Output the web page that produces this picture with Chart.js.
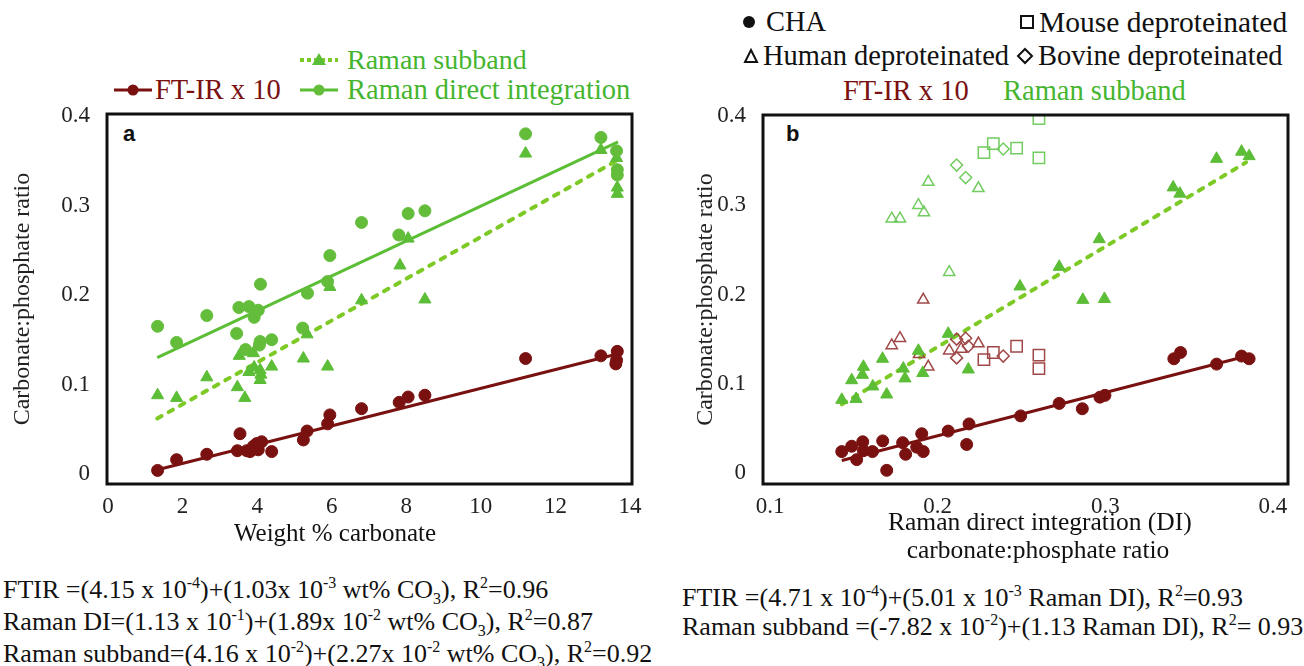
<!DOCTYPE html>
<html>
<head>
<meta charset="utf-8">
<script src="https://cdn.jsdelivr.net/npm/chart.js@4.4.0/dist/chart.umd.min.js"></script>
<style>
  body { margin: 0; background: #fff; }
  #page { position: relative; width: 1304px; height: 666px; overflow: hidden; font-family: 'Liberation Serif', serif; color: #111; }
  .abs { position: absolute; white-space: nowrap; }
  .leg { font-size: 28.5px; line-height: 30px; }
  .eq { font-size: 26px; line-height: 32px; }
  .eq sup, .eq sub { font-size: 16px; line-height: 0; }
  .panel { position: absolute; font-family: 'Liberation Sans', Arial, sans-serif; font-weight: bold; font-size: 22px; }
</style>
</head>
<body>
<div id="page">
  <!-- legenda painel a -->
  <svg class="abs" style="left:298px; top:50px;" width="42" height="20"><line x1="2" y1="10" x2="40" y2="10" stroke="#7dc925" stroke-width="4" stroke-dasharray="4,3"/><polygon points="21,3 28,15 14,15" fill="#5cbd37"/></svg>
  <div class="abs leg" style="left:347px; top:45px; color:#45b52f; font-size:28px;">Raman subband</div>
  <svg class="abs" style="left:112px; top:80px;" width="42" height="20"><line x1="2" y1="10" x2="40" y2="10" stroke="#7a1111" stroke-width="3"/><circle cx="21" cy="10" r="5.5" fill="#7a1111"/></svg>
  <div class="abs leg" style="left:155px; top:75px; color:#7a1111;">FT-IR x 10</div>
  <svg class="abs" style="left:298px; top:80px;" width="42" height="20"><line x1="2" y1="10" x2="40" y2="10" stroke="#5cbe35" stroke-width="3"/><circle cx="21" cy="10" r="5.5" fill="#63bd3b"/></svg>
  <div class="abs leg" style="left:347px; top:75px; color:#45b52f;">Raman direct integration</div>

  <!-- legenda painel b -->
  <svg class="abs" style="left:741px; top:13px;" width="16" height="18"><circle cx="8" cy="9" r="6" fill="#111"/></svg>
  <div class="abs leg" style="left:766px; top:7px;">CHA</div>
  <svg class="abs" style="left:1019px; top:13px;" width="16" height="18"><rect x="2" y="3" width="12" height="12" fill="none" stroke="#111" stroke-width="2"/></svg>
  <div class="abs leg" style="left:1039px; top:7px; font-size:29.5px;">Mouse deproteinated</div>
  <svg class="abs" style="left:743px; top:47px;" width="16" height="18"><polygon points="8,3 14,15 2,15" fill="none" stroke="#111" stroke-width="2"/></svg>
  <div class="abs leg" style="left:763px; top:41px;">Human deproteinated</div>
  <svg class="abs" style="left:1016px; top:46px;" width="18" height="20"><polygon points="9,3 16,10 9,17 2,10" fill="none" stroke="#111" stroke-width="2"/></svg>
  <div class="abs leg" style="left:1038px; top:41px;">Bovine deproteinated</div>
  <div class="abs leg" style="left:843px; top:76px; color:#7a1111;">FT-IR x 10</div>
  <div class="abs leg" style="left:1003px; top:76px; color:#45b52f;">Raman subband</div>

  <div class="panel" style="left:123px; top:121px;">a</div>
  <div class="panel" style="left:786px; top:121px;">b</div>

  <canvas id="graficoA" width="660" height="470" style="position:absolute; left:0; top:100px;"></canvas>
  <canvas id="graficoB" width="614" height="470" style="position:absolute; left:690px; top:100px;"></canvas>

  <!-- titulos eixo x -->
  <div class="abs" style="left:185px; top:518px; width:300px; text-align:center; font-size:25px; line-height:30px;">Weight % carbonate</div>
  <div class="abs" style="left:888px; top:508px; width:300px; text-align:center; font-size:25.5px; line-height:28px;">Raman direct integration (DI)<br>carbonate:phosphate ratio</div>

  <!-- equacoes -->
  <div class="abs eq" style="left:3px; top:574px;">
    FTIR =(4.15 x 10<sup>-4</sup>)+(1.03x 10<sup>-3</sup> wt% CO<sub>3</sub>), R<sup>2</sup>=0.96<br>
    Raman DI=(1.13 x 10<sup>-1</sup>)+(1.89x 10<sup>-2</sup> wt% CO<sub>3</sub>), R<sup>2</sup>=0.87<br>
    Raman subband=(4.16 x 10<sup>-2</sup>)+(2.27x 10<sup>-2</sup> wt% CO<sub>3</sub>), R<sup>2</sup>=0.92
  </div>
  <div class="abs eq" style="left:682px; top:583px; line-height:29px;">
    FTIR =(4.71 x 10<sup>-4</sup>)+(5.01 x 10<sup>-3</sup> Raman DI), R<sup>2</sup>=0.93<br>
    Raman subband =(-7.82 x 10<sup>-2</sup>)+(1.13 Raman DI), R<sup>2</sup>= 0.93
  </div>
</div>

<script>
// cores
const vermelho = '#7a1111';
const verdeDI = '#63bd3b';
const verdeSub = '#5cbd37';
const verdeTracejado = '#7dc925';
const verdeAberto = '#72cc60';
const vermelhoAberto = '#a04848';

// ---- painel a: wt% carbonato ----
const ticksA_x = [0, 2, 4, 6, 8, 10, 12, 14];
const ticksY = [0, 0.1, 0.2, 0.3, 0.4];

const ftirWt =   [1.33, 1.84, 2.65, 3.54, 3.47, 3.72, 3.90, 3.99, 4.12, 4.03, 3.81, 4.39, 5.24, 5.34, 5.89, 5.95, 6.80, 7.81, 8.05, 8.50, 11.20, 13.22, 13.66, 13.64, 13.62];
const ftirRatio = [0.004, 0.016, 0.022, 0.045, 0.026, 0.026, 0.031, 0.034, 0.036, 0.027, 0.025, 0.025, 0.038, 0.048, 0.056, 0.066, 0.073, 0.080, 0.086, 0.088, 0.129, 0.132, 0.137, 0.127, 0.123];

const diWt =   [1.33, 1.84, 2.65, 3.51, 3.78, 4.03, 3.92, 4.09, 3.45, 3.69, 4.08, 4.06, 4.39, 5.22, 5.35, 5.89, 5.95, 6.80, 7.80, 8.05, 8.50, 11.20, 13.22, 13.64, 13.66, 13.66];
const diRatio = [0.165, 0.147, 0.177, 0.186, 0.187, 0.183, 0.175, 0.212, 0.157, 0.139, 0.148, 0.144, 0.150, 0.163, 0.202, 0.215, 0.244, 0.281, 0.267, 0.291, 0.294, 0.380, 0.376, 0.361, 0.340, 0.334];

const subWt =   [1.33, 1.84, 2.65, 3.47, 3.67, 3.52, 3.90, 3.78, 3.92, 4.08, 4.10, 4.08, 4.39, 5.24, 5.34, 5.89, 5.95, 6.80, 7.83, 8.05, 8.50, 11.20, 13.22, 13.64, 13.66, 13.66];
const subRatio = [0.088, 0.085, 0.108, 0.097, 0.085, 0.132, 0.135, 0.114, 0.119, 0.116, 0.111, 0.105, 0.120, 0.129, 0.156, 0.120, 0.209, 0.194, 0.233, 0.263, 0.195, 0.358, 0.362, 0.353, 0.320, 0.313];

// retas de ajuste (pontas)
const retaFtirA = [[1.35, 0.005], [13.66, 0.134]];
const retaDiA = [[1.32, 0.130], [13.68, 0.371]];
const retaSubA = [[1.32, 0.062], [13.60, 0.349]];

// ---- painel b: Raman DI ----
const ticksB_x = [0.1, 0.2, 0.3, 0.4];

const chaDI = [0.1428, 0.1487, 0.1553, 0.1517, 0.1557, 0.1611, 0.1672, 0.1696, 0.1791, 0.1809, 0.1875, 0.1905, 0.1914, 0.2063, 0.2173, 0.2187, 0.2495, 0.2725, 0.2863, 0.2968, 0.2998, 0.3409, 0.3449, 0.3664, 0.3813, 0.3858];
const chaFtir = [0.024, 0.030, 0.035, 0.015, 0.025, 0.024, 0.036, 0.003, 0.034, 0.021, 0.029, 0.044, 0.024, 0.047, 0.032, 0.055, 0.064, 0.078, 0.072, 0.085, 0.087, 0.128, 0.135, 0.122, 0.131, 0.128];

const chaSubDI = [0.1428, 0.1513, 0.1487, 0.1551, 0.1557, 0.1613, 0.1671, 0.1696, 0.1795, 0.1805, 0.1885, 0.1911, 0.2063, 0.2183, 0.2491, 0.2725, 0.2866, 0.2995, 0.2964, 0.3405, 0.3445, 0.3664, 0.3813, 0.3858];
const chaSub = [0.082, 0.083, 0.104, 0.110, 0.119, 0.097, 0.128, 0.088, 0.117, 0.106, 0.137, 0.112, 0.156, 0.116, 0.209, 0.231, 0.194, 0.195, 0.262, 0.320, 0.313, 0.352, 0.360, 0.355];

const humanoSubDI = [0.1726, 0.1775, 0.1885, 0.1918, 0.1944, 0.2069, 0.2243];
const humanoSub = [0.285, 0.285, 0.300, 0.292, 0.326, 0.225, 0.319];
const bovinoSubDI = [0.2113, 0.2167, 0.2391];
const bovinoSub = [0.345, 0.331, 0.363];
const camundongoSubDI = [0.2276, 0.2332, 0.2471, 0.2604, 0.2604];
const camundongoSub = [0.359, 0.369, 0.364, 0.397, 0.353];

const humanoFtirDI = [0.1914, 0.1726, 0.1775, 0.1889, 0.1944, 0.2069, 0.2243, 0.2140];
const humanoFtir = [0.194, 0.143, 0.151, 0.133, 0.119, 0.137, 0.145, 0.139];
const bovinoFtirDI = [0.2113, 0.2167, 0.2183, 0.2113, 0.2391];
const bovinoFtir = [0.150, 0.151, 0.142, 0.129, 0.131];
const camundongoFtirDI = [0.2276, 0.2332, 0.2471, 0.2604, 0.2604];
const camundongoFtir = [0.127, 0.135, 0.142, 0.132, 0.117];

const retaFtirB = [[0.1428, 0.014], [0.3862, 0.132]];
const retaSubB = [[0.1428, 0.077], [0.3840, 0.348]];

const pares = (xs, ys) => xs.map((x, i) => ({ x: x, y: ys[i] }));
const reta = r => r.map(p => ({ x: p[0], y: p[1] }));

// moldura preta em volta da area do grafico
const moldura = {
    id: 'moldura',
    afterDraw(chart) {
        const a = chart.chartArea;
        const ctx = chart.ctx;
        ctx.save();
        ctx.strokeStyle = '#111';
        ctx.lineWidth = 3;
        ctx.strokeRect(a.left, a.top, a.right - a.left, a.bottom - a.top);
        ctx.restore();
    }
};

const fonteTick = { family: "'Liberation Serif', serif", size: 23 };

function pontos(label, data, cor, estilo, raio, aberto) {
    return {
        type: 'scatter',
        label: label,
        data: data,
        pointStyle: estilo,
        pointRadius: raio,
        pointBackgroundColor: aberto ? 'rgba(0,0,0,0)' : cor,
        pointBorderColor: cor,
        pointBorderWidth: aberto ? 1.5 : 1,
        order: 1
    };
}

function linha(label, data, cor, traco) {
    return {
        type: 'line',
        label: label,
        data: data,
        borderColor: cor,
        borderWidth: traco ? 4 : 3,
        borderDash: traco ? [5, 8] : [],
        borderCapStyle: traco ? 'round' : 'butt',
        pointRadius: 0,
        fill: false,
        order: 2
    };
}

function eixos(xMin, xMax, xTicks, yMin, yMax, yLargura, yTitlePad) {
    return {
        x: {
            type: 'linear',
            min: xMin, max: xMax,
            grid: { display: false },
            border: { display: false },
            afterBuildTicks: s => { s.ticks = xTicks.map(v => ({ value: v })); },
            afterFit: s => { s.height = 86; s.paddingLeft = 0; s.paddingRight = 0; },
            ticks: { font: fonteTick, color: '#222', padding: 1, maxRotation: 0 }
        },
        y: {
            type: 'linear',
            min: yMin, max: yMax,
            grid: { display: false },
            border: { display: false },
            afterBuildTicks: s => { s.ticks = ticksY.map(v => ({ value: v })); },
            afterFit: s => { s.width = yLargura; s.paddingTop = 0; s.paddingBottom = 0; },
            ticks: { font: fonteTick, color: '#222', padding: 9 },
            title: {
                display: true,
                text: 'Carbonate:phosphate ratio',
                font: { family: "'Liberation Serif', serif", size: 24 },
                color: '#222',
                padding: { top: yTitlePad, bottom: 0 }
            }
        }
    };
}

Chart.defaults.animation = false;

const graficoA = new Chart(document.getElementById('graficoA'), {
    type: 'scatter',
    data: {
        datasets: [
            pontos('FT-IR x 10', pares(ftirWt, ftirRatio), vermelho, 'circle', 6, false),
            pontos('Raman direct integration', pares(diWt, diRatio), verdeDI, 'circle', 6, false),
            pontos('Raman subband', pares(subWt, subRatio), verdeSub, 'triangle', 7, false),
            linha('ajuste FT-IR', reta(retaFtirA), vermelho, false),
            linha('ajuste DI', reta(retaDiA), '#5cbe35', false),
            linha('ajuste subband', reta(retaSubA), verdeTracejado, true)
        ]
    },
    options: {
        responsive: false,
        devicePixelRatio: 1,
        layout: { padding: { top: 14, right: 28, left: 0, bottom: 0 } },
        plugins: { legend: { display: false }, tooltip: { enabled: false } },
        scales: eixos(-0.027, 14.054, ticksA_x, -0.0112, 0.4022, 107, 8)
    },
    plugins: [moldura]
});

const graficoB = new Chart(document.getElementById('graficoB'), {
    type: 'scatter',
    data: {
        datasets: [
            pontos('CHA FT-IR', pares(chaDI, chaFtir), vermelho, 'circle', 6, false),
            pontos('CHA subband', pares(chaSubDI, chaSub), verdeSub, 'triangle', 7, false),
            pontos('Human subband', pares(humanoSubDI, humanoSub), verdeAberto, 'triangle', 6.5, true),
            pontos('Bovine subband', pares(bovinoSubDI, bovinoSub), verdeAberto, 'rectRot', 6, true),
            pontos('Mouse subband', pares(camundongoSubDI, camundongoSub), verdeAberto, 'rect', 8, true),
            pontos('Human FT-IR', pares(humanoFtirDI, humanoFtir), vermelhoAberto, 'triangle', 6.5, true),
            pontos('Bovine FT-IR', pares(bovinoFtirDI, bovinoFtir), vermelhoAberto, 'rectRot', 6, true),
            pontos('Mouse FT-IR', pares(camundongoFtirDI, camundongoFtir), vermelhoAberto, 'rect', 8, true),
            linha('ajuste FT-IR', reta(retaFtirB), vermelho, false),
            linha('ajuste subband', reta(retaSubB), verdeTracejado, true)
        ]
    },
    options: {
        responsive: false,
        devicePixelRatio: 1,
        layout: { padding: { top: 15, right: 16, left: 0, bottom: 0 } },
        plugins: { legend: { display: false }, tooltip: { enabled: false } },
        scales: eixos(0.0958, 0.409, ticksB_x, -0.0123, 0.4011, 73, 1)
    },
    plugins: [moldura]
});
</script>
</body>
</html>
